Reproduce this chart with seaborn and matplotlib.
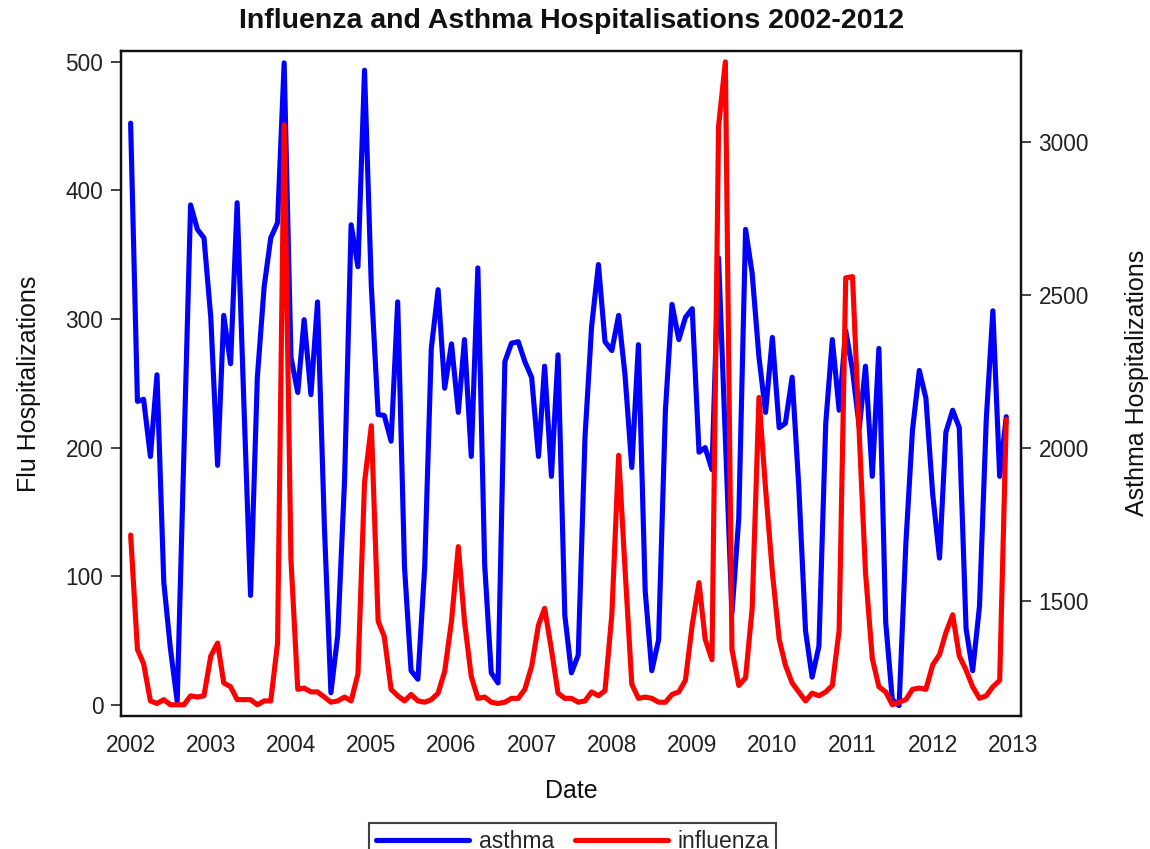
import numpy as np
import pandas as pd
import matplotlib
matplotlib.use("Agg")
import matplotlib.pyplot as plt
import matplotlib.dates as mdates
import seaborn as sns

# ---- data (monthly, Jan 2002 - Dec 2012) ----
months = pd.date_range("2002-01-01", "2012-12-01", freq="MS")

asthma = [3061, 2152, 2159, 1972, 2239, 1561, 1345, 1172, 2000, 2794, 2714, 2686,
          2426, 1943, 2433, 2275, 2801, 2138, 1518, 2231, 2527, 2686, 2736, 3258,
          2296, 2181, 2419, 2174, 2477, 1748, 1200, 1388, 1893, 2729, 2592, 3234,
          2527, 2109, 2106, 2022, 2477, 1611, 1272, 1244, 1611, 2325, 2517, 2195,
          2340, 2116, 2354, 1972, 2588, 1619, 1265, 1232, 2282, 2342, 2347, 2282,
          2230, 1972, 2267, 1907, 2304, 1453, 1265, 1323, 2037, 2397, 2599, 2347,
          2318, 2433, 2239, 1936, 2337, 1532, 1272, 1373, 2123, 2469, 2354, 2426,
          2455, 1986, 2001, 1929, 2621, 2030, 1460, 1770, 2714, 2570, 2296, 2116,
          2361, 2066, 2080, 2231, 1878, 1402, 1251, 1352, 2080, 2354, 2123, 2383,
          2253, 2066, 2267, 1907, 2325, 1431, 1178, 1158, 1690, 2058, 2253, 2163,
          1849, 1640, 2051, 2123, 2066, 1409, 1272, 1482, 2094, 2448, 1907, 2102]

influenza = [132, 43, 32, 3, 1, 4, 0, 0, 0, 7, 6, 7,
             38, 48, 17, 14, 4, 4, 4, 0, 3, 3, 48, 451,
             113, 12, 13, 10, 10, 6, 2, 3, 6, 3, 24, 173,
             217, 65, 53, 12, 7, 3, 8, 3, 2, 4, 9, 26,
             65, 123, 65, 22, 5, 6, 2, 1, 2, 5, 5, 12,
             30, 62, 75, 43, 9, 5, 5, 2, 3, 10, 7, 11,
             70, 194, 106, 16, 5, 6, 5, 2, 2, 8, 10, 19,
             62, 95, 51, 35, 450, 500, 43, 15, 21, 75, 239, 168,
             103, 51, 31, 17, 10, 3, 9, 7, 10, 15, 58, 332,
             333, 209, 103, 36, 14, 10, 0, 2, 4, 12, 13, 12,
             31, 39, 56, 70, 38, 27, 14, 5, 7, 14, 19, 222]

df = pd.DataFrame({"Date": months, "asthma": asthma, "influenza": influenza})

# ---- style ----
sns.set_style("white")
plt.rcParams["font.family"] = ["Liberation Sans", "DejaVu Sans"]

fig = plt.figure(figsize=(11.5, 8.49), dpi=100)
ax = fig.add_axes([0.105, 0.157, 0.783, 0.783])
ax2 = ax.twinx()

# red (influenza) on top of blue (asthma)
ax.set_zorder(ax2.get_zorder() + 1)
ax.patch.set_visible(False)

sns.lineplot(data=df, x="Date", y="asthma", ax=ax2, color="#0000FF", lw=3.7,
             label="asthma", legend=False)
sns.lineplot(data=df, x="Date", y="influenza", ax=ax, color="#FF0000", lw=3.7,
             label="influenza", legend=False)

# limits
ax.set_xlim(pd.Timestamp("2001-11-17"), pd.Timestamp("2013-02-07"))
ax.set_ylim(-8.5, 508.5)
ax2.set_ylim(1125, 3297)

# ticks
ax.xaxis.set_major_locator(mdates.YearLocator())
ax.xaxis.set_major_formatter(mdates.DateFormatter("%Y"))
ax.set_yticks([0, 100, 200, 300, 400, 500])
ax2.set_yticks([1500, 2000, 2500, 3000])
for a in (ax, ax2):
    a.tick_params(axis="both", which="major", direction="out", length=7, width=1.2,
                  labelsize=16.3, colors="#222222", labelcolor="#222222")
    for s in a.spines.values():
        s.set_color("#111111")
        s.set_linewidth(1.6)
ax.tick_params(axis="x", pad=6)
ax.tick_params(axis="y", pad=5.5)
ax2.tick_params(axis="y", pad=5.5)

# vertical grid behind lines
ax2.grid(False)
ax.grid(False)
ax2.xaxis.grid(True, color="#dddddd", lw=1.3)
ax2.set_axisbelow(True)

ax.set_xlabel("Date", fontsize=18, labelpad=16, color="#111111")
ax.set_ylabel("Flu Hospitalizations", fontsize=18, labelpad=18, color="#111111")
ax2.set_ylabel("Asthma Hospitalizations", fontsize=18, labelpad=26, color="#111111")

fig.suptitle("Influenza and Asthma Hospitalisations 2002-2012", fontsize=20.5,
             fontweight="bold", y=0.991, x=0.497, va="top", color="#111111")

# legend
h2, l2 = ax2.get_legend_handles_labels()
h1, l1 = ax.get_legend_handles_labels()
leg = fig.legend(h2 + h1, l2 + l1, loc="upper center",
                 bbox_to_anchor=(0.498, 1 - 823 / 849), bbox_transform=fig.transFigure,
                 ncol=2, frameon=True, fancybox=False, fontsize=16.5, handlelength=4.06,
                 columnspacing=0.9, handletextpad=0.44, borderpad=0.3,
                 borderaxespad=0.0)
leg.get_frame().set_edgecolor("#111111")
leg.get_frame().set_linewidth(1.5)

fig.savefig("out.png", dpi=100)
